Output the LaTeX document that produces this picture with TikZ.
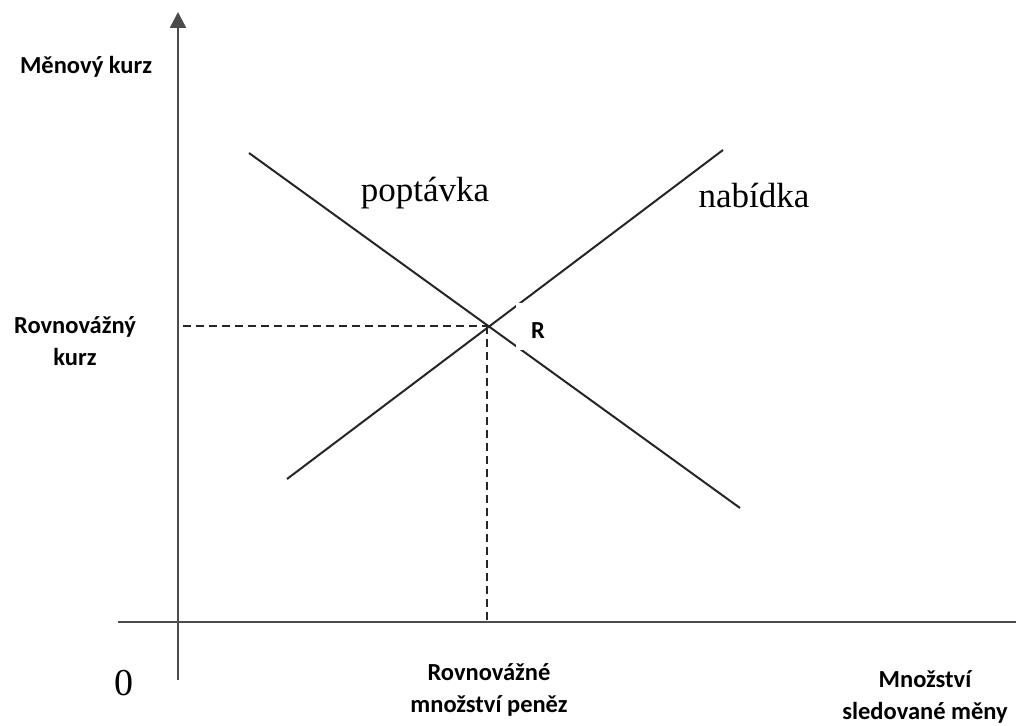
\documentclass[tikz,border=0pt]{standalone}
\usepackage{fontspec}
\setmainfont{Carlito}
\newfontfamily\timesf{Liberation Serif}
\usetikzlibrary{arrows.meta}
\begin{document}
\begin{tikzpicture}[x=1pt,y=-1pt,
  axisline/.style={draw=black!70,line width=2.6pt},
  curveline/.style={draw=black!85,line width=2pt},
  guide/.style={draw=black!85,line width=2pt,dash pattern=on 8pt off 5pt},
  lab/.style={font=\fontsize{24.5}{32}\selectfont\bfseries,align=center,inner sep=0pt},
  curvelab/.style={font=\timesf\fontsize{35}{40}\selectfont,inner sep=0pt}]
\useasboundingbox (0,0) rectangle (1016,725);
% axes
\coordinate (ybot) at (178,680);
\coordinate (ytop) at (178,12);
\coordinate (xleft) at (118,622);
\coordinate (xright) at (1016,622);
\draw[axisline,-{Triangle[length=16pt,width=16pt]}] (ybot) -- (ytop);
\draw[axisline] (xleft) -- (xright);
% curves
\coordinate (d1) at (249,153);
\coordinate (d2) at (740,508);
\coordinate (s1) at (287,479);
\coordinate (s2) at (723,150);
\draw[curveline] (d1) -- (d2);
\draw[curveline] (s1) -- (s2);
\coordinate (eq) at (487,326);
\coordinate (eqy) at (183,326);
\coordinate (eqx) at (487,622);
\draw[guide] (eqy) -- (eq);
\draw[guide] (eq) -- (eqx);
% white box covering lines, with R label
\node[fill=white,minimum width=44pt,minimum height=47pt,inner sep=0pt] (Rbox) at (538,326.5) {};
\node[lab] (R) at (538,331) {R};
% labels
\node[lab] (ylab) at (86,67) {Měnový kurz};
\node[lab] (eqylab) at (75,341) {Rovnovážný\\kurz};
\node[lab] (eqxlab) at (489,690) {Rovnovážné\\množství peněz};
\node[lab] (xlab) at (925,697) {Množství\\sledované měny};
\node[curvelab] (dlab) at (425,193) {poptávka};
\node[curvelab] (slab) at (754,196) {nabídka};
\node[font=\timesf\fontsize{38}{40}\selectfont,inner sep=0pt] (zero) at (124,683) {0};
\end{tikzpicture}
\end{document}
